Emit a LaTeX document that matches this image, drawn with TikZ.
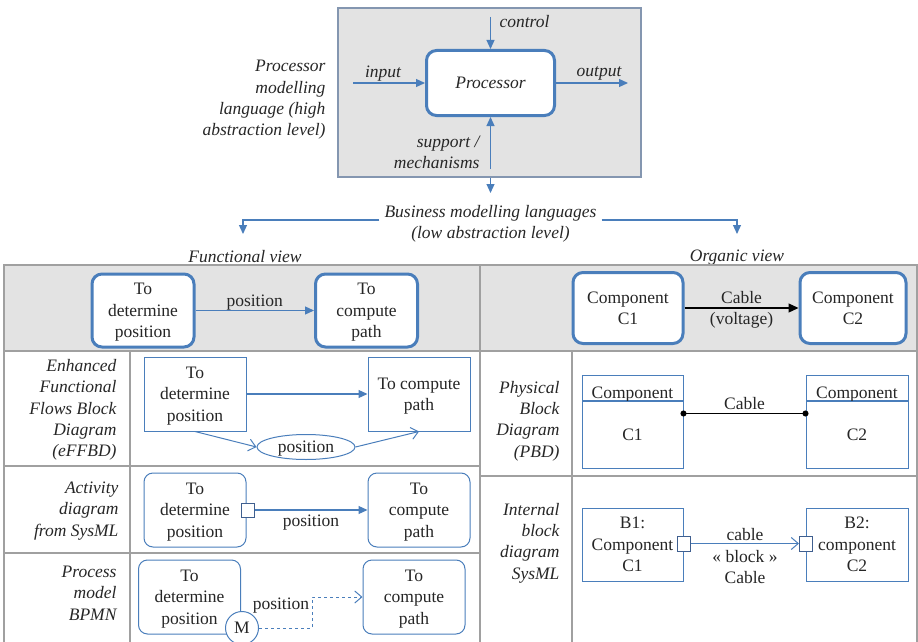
\documentclass[tikz,border=0pt]{standalone}
\usepackage{fontspec}
\setmainfont{Liberation Serif}
\usetikzlibrary{shapes.geometric, arrows, arrows.meta}
\definecolor{azul}{HTML}{4A7EBB}
\definecolor{azuloscuro}{HTML}{3F5F8F}
\definecolor{gristab}{HTML}{A0A0A0}
\definecolor{fondo}{HTML}{E3E3E3}
\definecolor{marcogris}{HTML}{8496B0}
\definecolor{texto}{HTML}{262626}
\newcommand{\tam}{\fontsize{17.5}{21.3}\selectfont}
\tikzstyle{cajagruesa} = [rectangle, rounded corners=10pt, minimum width=102pt, minimum height=73pt, align=center, draw=azul, line width=3pt, fill=white]
\tikzstyle{caja} = [rectangle, minimum width=102pt, minimum height=74pt, align=center, draw=azul, line width=1pt, fill=white]
\tikzstyle{cajaredonda} = [caja, rounded corners=9pt]
\tikzstyle{cabecera} = [caja, minimum height=25pt, anchor=north, inner sep=0pt, text height=20pt]
\tikzstyle{puerto} = [rectangle, minimum width=13pt, minimum height=14pt, inner sep=0pt, draw=azuloscuro, line width=1pt, fill=white]
\tikzstyle{solotexto} = [align=center]
\tikzstyle{etiqueta} = [align=right, anchor=east, font=\tam\itshape]
\tikzstyle{flecha} = [line width=1.2pt, draw=azul, -{Triangle[length=9pt,width=8pt]}, >=stealth]
\tikzstyle{flechaabierta} = [line width=1pt, draw=azul, -{Straight Barb[length=7pt,width=12pt]}]
\tikzstyle{linea} = [gristab, line width=1.2pt]

\begin{document}
\begin{tikzpicture}[x=1pt, y=-1pt, font=\tam, text=texto, every node/.append style={text depth=0pt}]
    \useasboundingbox (0,0) rectangle (918,642);

    % nivel alto: procesador
    \node (marco) [rectangle, minimum width=303pt, minimum height=169pt, draw=marcogris, line width=1.2pt, fill=fondo] at (489.5,92.5) {};
    \node (proc) [cajagruesa, minimum width=128pt, minimum height=65pt, font=\tam\itshape] at (490.5,83) {Processor};
    \coordinate (ctrl) at (490.5,17);
    \coordinate (ent) at (353,83);
    \coordinate (sal) at (628,83);
    \coordinate (sop) at (490.5,169);
    \draw [flecha] (ctrl) -- (proc.north);
    \draw [flecha] (ent) -- (proc.west);
    \draw [flecha] (proc.east) -- (sal);
    \draw [flecha] (sop) -- (proc.south);
    \node (lctrl) [anchor=west, font=\tam\itshape] at (496,21) {control};
    \node (lent) [font=\tam\itshape] at (383,72) {input};
    \node (lsal) [font=\tam\itshape] at (599,72) {output};
    \node (lsop) [etiqueta] at (483,152) {support /\\mechanisms};
    \node (lproc) [etiqueta] at (329,98) {Processor\\modelling\\language (high\\abstraction level)};

    % lenguajes de negocio
    \coordinate (bajo) at (490.5,193);
    \draw [flecha] (marco.south -| proc.south) -- (bajo);
    \node (negocio) [solotexto, font=\tam\itshape, inner xsep=5pt] at (490.5,222) {Business modelling languages\\(low abstraction level)};
    \coordinate (fv) at (243,234);
    \coordinate (ov) at (737,234);
    \draw [flecha] (negocio.west |- 0,220) -| (fv);
    \draw [flecha] (negocio.east |- 0,220) -| (ov);
    \node (funcional) [font=\tam\itshape] at (245,256) {Functional view};
    \node (organica) [font=\tam\itshape] at (737,256) {Organic view};

    % tabla
    \fill [fondo] (4,265) rectangle (918,351);
    \draw [linea] (4,351) -- (918,351);
    \draw [linea] (4,466) -- (480,466);
    \draw [linea] (4,553) -- (480,553);
    \draw [linea] (480,476) -- (918,476);
    \draw [linea] (130,351) -- (130,645);
    \draw [linea] (572,351) -- (572,645);
    \draw [gristab, line width=2pt] (480,265) -- (480,645);
    \draw [gristab, line width=2pt] (4,265) rectangle (917,645);

    % vista funcional
    \node (d1) [cajagruesa] at (143,310.5) {To\\determine\\position};
    \node (d2) [cajagruesa] at (366.5,310.5) {To\\compute\\path};
    \draw [flecha] (d1) -- node[above] {position} (d2);

    \node (leffbd) [etiqueta] at (120,408) {Enhanced\\Functional\\Flows Block\\Diagram\\(eFFBD)};
    \node (e1) [caja] at (195,394) {To\\determine\\position};
    \node (e2) [caja] at (419,394) {To compute\\path};
    \node (ep) [ellipse, draw=azul, line width=1pt, fill=white, minimum width=98pt, minimum height=25pt, inner sep=0pt] at (306,447) {position};
    \draw [flecha] (e1) -- (e2);
    \draw [flechaabierta] (e1.south) -- (ep.west);
    \draw [flechaabierta] (ep.east) -- (e2.south);

    \node (lact) [etiqueta] at (122,509) {Activity\\diagram\\from SysML};
    \node (a1) [cajaredonda] at (195,510) {To\\determine\\position};
    \node (a2) [cajaredonda] at (419,510) {To\\compute\\path};
    \node (pin1) [puerto] at (247.5,510) {};
    \draw [flecha] (pin1.east) -- node[below, yshift=-1pt] {position} (a2.west);

    \node (lbpmn) [etiqueta] at (120,593) {Process\\model\\BPMN};
    \node (b1) [cajaredonda] at (189.5,597) {To\\determine\\position};
    \node (b2) [cajaredonda] at (414,597) {To\\compute\\path};
    \node (msj) [circle, draw=azul, line width=1pt, fill=white, minimum size=33pt, inner sep=0pt] at (242,628) {M};
    \coordinate (codo) at (312,597);
    \draw [flechaabierta, dashed] (msj.east) -| (codo) -- (b2.west);
    \node (lpos) at (281,604) {position};

    % vista organica
    \node (c1) [cajagruesa, minimum width=110pt, minimum height=71pt] at (628,308) {Component\\C1};
    \node (c2) [cajagruesa, minimum width=106pt, minimum height=71pt] at (853,308) {Component\\C2};
    \draw [line width=1.2pt, -{Triangle[length=10pt,width=9pt]}] (c1) -- node[solotexto] {Cable\\(voltage)} (c2);

    \node (lpbd) [etiqueta] at (563,419) {Physical\\Block\\Diagram\\(PBD)};
    \node (p1cab) [cabecera, minimum width=101pt] at (632.5,375) {Component};
    \node (p1cue) [caja, minimum width=101pt, minimum height=67pt, anchor=north] at (p1cab.south) {C1};
    \node (p2cab) [cabecera, minimum width=102pt] at (857,375) {Component};
    \node (p2cue) [caja, minimum width=102pt, minimum height=67pt, anchor=north] at (p2cab.south) {C2};
    \draw [line width=1.2pt, {Circle[length=6pt]}-{Circle[length=6pt]}, shorten <=-3pt, shorten >=-3pt] ([yshift=21.5pt]p1cue.east) -- node[above] {Cable} ([yshift=21.5pt]p2cue.west);

    \node (libd) [etiqueta] at (563,541) {Internal\\block\\diagram\\SysML};
    \node (i1) [caja, minimum width=101pt, minimum height=73pt] at (632.5,544.5) {B1:\\Component\\C1};
    \node (i2) [caja, minimum width=102pt, minimum height=73pt] at (857,544.5) {B2:\\component\\C2};
    \node (q1) [puerto, minimum height=15pt] at (684,543.5) {};
    \node (q2) [puerto, minimum height=15pt] at (806,543.5) {};
    \draw [flechaabierta] (q1.east) -- node[above, yshift=-1pt] {cable} node[below, solotexto, yshift=-3pt] {« block »\\Cable} (q2.west);
\end{tikzpicture}
\end{document}
